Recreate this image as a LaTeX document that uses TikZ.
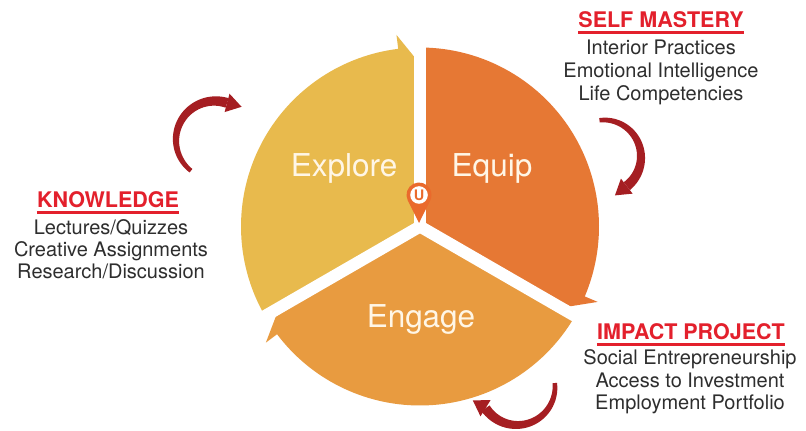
\documentclass[tikz,border=0pt]{standalone}
\usepackage{fontspec}
\setmainfont{TeX Gyre Heros}
\usetikzlibrary{calc}
\definecolor{exploreC}{HTML}{E8BA4D}
\definecolor{equipC}{HTML}{E67834}
\definecolor{engageC}{HTML}{E89B40}
\definecolor{headred}{HTML}{E3202C}
\definecolor{arrowred}{HTML}{A51E22}
\definecolor{bodygray}{HTML}{2E2E2E}
\definecolor{pinC}{HTML}{EA6A2C}
\definecolor{labelC}{HTML}{FFF6E6}
% tapered curved arrow: cx, cy, R, tail angle, head angle, tail half width, head half width, head direction, head length
\newcommand{\tarrow}[9]{%
  \fill[arrowred] plot[domain=#4:#5, samples=40]
    ({#1+(#3+#6+(#7-#6)*(#4-(\x))/(#4-(#5)))*cos(\x)}, {#2+(#3+#6+(#7-#6)*(#4-(\x))/(#4-(#5)))*sin(\x)})
    -- plot[domain=#5:#4, samples=40]
    ({#1+(#3-#6-(#7-#6)*(#4-(\x))/(#4-(#5)))*cos(\x)}, {#2+(#3-#6-(#7-#6)*(#4-(\x))/(#4-(#5)))*sin(\x)})
    -- cycle;
  \fill[arrowred] ($(#1,#2)+(#5:#3)+(#8+90:9.5)$) -- ($(#1,#2)+(#5:#3)+(#8:#9)$)
    -- ($(#1,#2)+(#5:#3)+(#8-90:9.5)$) -- cycle;
}
\begin{document}
\begin{tikzpicture}[x=1pt,y=1pt,
  heading/.style={font=\fontsize{21.5}{24}\selectfont\bfseries, text=headred, inner sep=0, anchor=base},
  bodytext/.style={font=\fontsize{20}{24}\selectfont, text=bodygray, inner sep=0, anchor=base},
  seclabel/.style={font=\fontsize{31.5}{36}\selectfont, text=labelC, inner sep=0, anchor=base},
  gapline/.style={white, line width=12},
  uline/.style={headred, line width=2.2}]
\useasboundingbox (0,0) rectangle (806,431);
\fill[white] (0,0) rectangle (806,431);

\coordinate (C) at (420,204.5);
\def\rr{179}
% sectors
\fill[exploreC] (C) -- ($(C)+(210:\rr)$) arc (210:97:\rr) -- ($(C)+(97:\rr+14)$)
  -- ($(C)+(90:170)+(180:6)$) -- cycle;
\fill[equipC] (C) -- ($(C)+(90:\rr)$) arc (90:-23:\rr) -- ($(C)+(-23:\rr+14)$)
  -- ($(C)+(-30:170)+(60:6)$) -- cycle;
\fill[engageC] (C) -- ($(C)+(-30:\rr)$) arc (-30:-143:\rr) -- ($(C)+(-143:\rr+14)$)
  -- ($(C)+(-150:170)+(-60:6)$) -- cycle;
% gaps
\draw[gapline] (C) -- ($(C)+(90:200)$);
\draw[gapline] (C) -- ($(C)+(210:200)$);
\draw[gapline] (C) -- ($(C)+(-30:200)$);
\fill[white] (C) circle (6);

% sector labels
\node[seclabel] (lExplore) at (344,254) {Explore};
\node[seclabel] (lEquip) at (492,254) {Equip};
\node[seclabel] (lEngage) at (421,103) {Engage};

% pin
\coordinate (pc) at (419,236);
\coordinate (ptip) at (419,208);
\fill[pinC] ($(pc)+(206.5:12.5)$) arc (206.5:-26.5:12.5) -- (ptip) -- cycle;
\fill[white] (pc) circle (8.8);
\node[font=\bfseries\fontsize{14.5}{14.5}\selectfont, text=pinC, inner sep=0] (pinU) at (pc) {U};

% red curved arrows
\tarrow{215}{291}{39}{232}{72}{2.2}{5}{-15}{15}
\tarrow{604}{274}{37}{97}{-52}{2.2}{5}{-142}{15}
\tarrow{517}{44}{38}{6}{-146}{2.2}{5}{148}{15}

% SELF MASTERY
\node[heading] (hSelf) at (661,403) {SELF MASTERY};
\draw[uline] ([yshift=-4.5]hSelf.base west) -- ([yshift=-4.5]hSelf.base east);
\node[bodytext] (s1) at (661,376) {Interior Practices};
\node[bodytext] (s2) at (661,353) {Emotional Intelligence};
\node[bodytext] (s3) at (661,330.5) {Life Competencies};

% KNOWLEDGE
\node[heading] (hKnow) at (108,223) {KNOWLEDGE};
\draw[uline] ([yshift=-4.5]hKnow.base west) -- ([yshift=-4.5]hKnow.base east);
\node[bodytext] (k1) at (111,196.7) {Lectures/Quizzes};
\node[bodytext] (k2) at (111,174.3) {Creative Assignments};
\node[bodytext] (k3) at (111,152) {Research/Discussion};

% IMPACT PROJECT
\node[heading] (hImp) at (691,91) {IMPACT PROJECT};
\draw[uline] ([yshift=-4.5]hImp.base west) -- ([yshift=-4.5]hImp.base east);
\node[bodytext] (i1) at (690,66) {Social Entrepreneurship};
\node[bodytext] (i2) at (690,43.7) {Access to Investment};
\node[bodytext] (i3) at (690,21) {Employment Portfolio};
\end{tikzpicture}
\end{document}
